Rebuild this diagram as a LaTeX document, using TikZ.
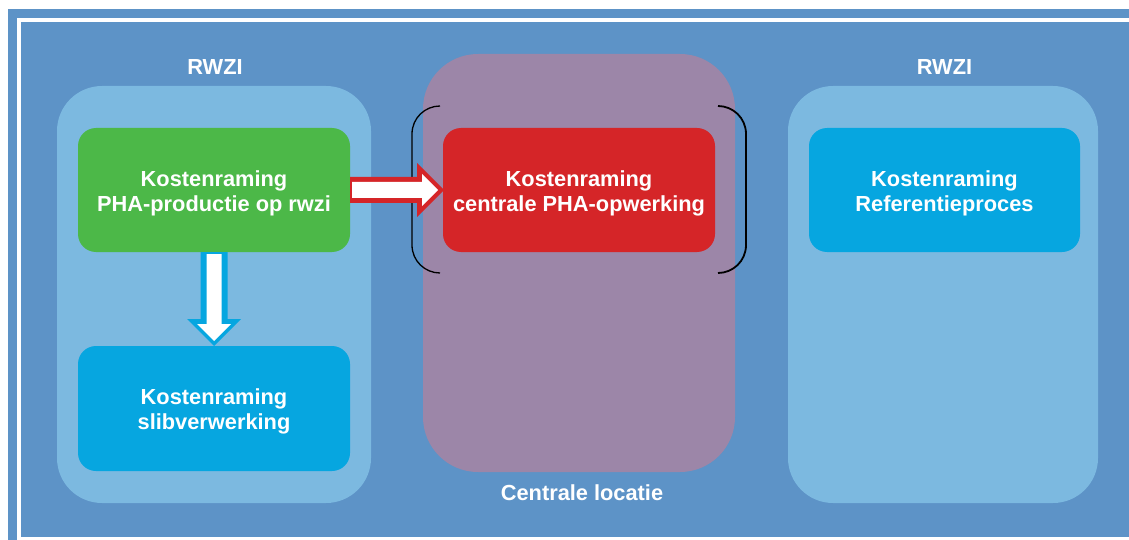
\documentclass[tikz,border=0pt]{standalone}
\usepackage{fontspec}
\setmainfont{Liberation Sans}
\usetikzlibrary{calc}

\definecolor{frameblue}{RGB}{93,147,199}
\definecolor{panelblue}{RGB}{124,185,224}
\definecolor{zonepurple}{RGB}{156,134,168}
\definecolor{boxgreen}{RGB}{76,184,72}
\definecolor{boxblue}{RGB}{6,166,224}
\definecolor{boxred}{RGB}{213,37,40}

\tikzset{
  panel/.style={fill=panelblue, rounded corners=45pt, inner sep=0pt, outer sep=0pt},
  zone/.style={fill=zonepurple, rounded corners=55pt, inner sep=0pt, outer sep=0pt},
  costbox/.style={rounded corners=18pt, inner sep=0pt, outer sep=0pt,
    minimum width=272pt, minimum height=124pt},
  boxlabel/.style={text=white, align=center, inner sep=0pt,
    font=\bfseries\fontsize{21.8}{25}\selectfont},
  title/.style={text=white, font=\bfseries\fontsize{21.8}{25}\selectfont, inner sep=0pt},
  bracket/.style={draw=black, line width=1.5pt},
}

\begin{document}
\begin{tikzpicture}[x=1pt, y=-1pt]
  \useasboundingbox (0,0) rectangle (1129,540);

  % background frame: blue band, white rule, blue field
  \fill[white] (0,0) rectangle (1129,540);
  \fill[frameblue] (8,9) rectangle (1129,540);
  \fill[white] (17,18) rectangle (1129,540);
  \fill[frameblue] (21,22) rectangle (1129,537);

  % location panels
  \node[panel, minimum width=314pt, minimum height=417pt] (rwziL) at (214,294.5) {};
  \node[zone, minimum width=312pt, minimum height=418pt] (central) at (579,263) {};
  \node[panel, minimum width=310pt, minimum height=417pt] (rwziR) at (943,294.5) {};

  \node[title] (tL) at ($(rwziL.north)+(1,-19)$) {RWZI};
  \node[title] (tR) at ($(rwziR.north)+(1.5,-19)$) {RWZI};
  \node[title] (tC) at ($(central.south)+(3,21)$) {Centrale locatie};

  % cost estimate boxes
  \node[costbox, fill=boxgreen] (pha) at (214,190) {};
  \node[costbox, fill=boxblue, minimum height=125pt] (slib) at (214,408.5) {};
  \node[costbox, fill=boxred] (opw) at (579,190) {};
  \node[costbox, fill=boxblue, minimum width=271pt] (ref) at (944.5,190) {};

  \node[boxlabel] (phaT) at ($(pha.center)+(0,3)$) {Kostenraming\\PHA-productie op rwzi};
  \node[boxlabel] (slibT) at ($(slib.center)+(0,3)$) {Kostenraming\\slibverwerking};
  \node[boxlabel] (opwT) at ($(opw.center)+(0,3)$) {Kostenraming\\centrale PHA-opwerking};
  \node[boxlabel] (refT) at ($(ref.center)+(0,3)$) {Kostenraming\\Referentieproces};

  % brackets around the central processing box
  \draw[bracket, line width=1.3pt] (440,106) .. controls (425,106) and (412,118) .. (412,134)
    -- (412,245) .. controls (412,261) and (425,273) .. (440,273);
  \draw[bracket, line width=1.8pt] (718,106) .. controls (733,106) and (746,118) .. (746,134)
    -- (746,245) .. controls (746,261) and (733,273) .. (718,273);

  % block arrow: PHA production -> sludge processing
  \fill[boxblue] ($(pha.south)+(-13.5,0)$) -- ($(pha.south)+(13.5,0)$)
    -- ($(slib.north)+(13.5,-27)$) -- ($(slib.north)+(27,-27)$) -- (slib.north)
    -- ($(slib.north)+(-27,-27)$) -- ($(slib.north)+(-13.5,-27)$) -- cycle;
  \fill[white] ($(pha.south)+(-7.5,2)$) -- ($(pha.south)+(7.5,2)$)
    -- ($(slib.north)+(7.5,-22)$) -- ($(slib.north)+(17,-22)$) -- ($(slib.north)+(0,-5)$)
    -- ($(slib.north)+(-17,-22)$) -- ($(slib.north)+(-7.5,-22)$) -- cycle;

  % block arrow: PHA production -> central processing
  \fill[boxred] ($(pha.east)+(0,-13)$) -- ($(opw.west)+(-26,-13)$)
    -- ($(opw.west)+(-26,-27)$) -- ($(opw.west)+(1,0)$) -- ($(opw.west)+(-26,27)$)
    -- ($(opw.west)+(-26,13)$) -- ($(pha.east)+(0,13)$) -- cycle;
  \fill[white] ($(pha.east)+(2,-8)$) -- ($(opw.west)+(-21,-8)$)
    -- ($(opw.west)+(-21,-16)$) -- ($(opw.west)+(-5,0)$) -- ($(opw.west)+(-21,16)$)
    -- ($(opw.west)+(-21,8)$) -- ($(pha.east)+(2,8)$) -- cycle;
\end{tikzpicture}
\end{document}
